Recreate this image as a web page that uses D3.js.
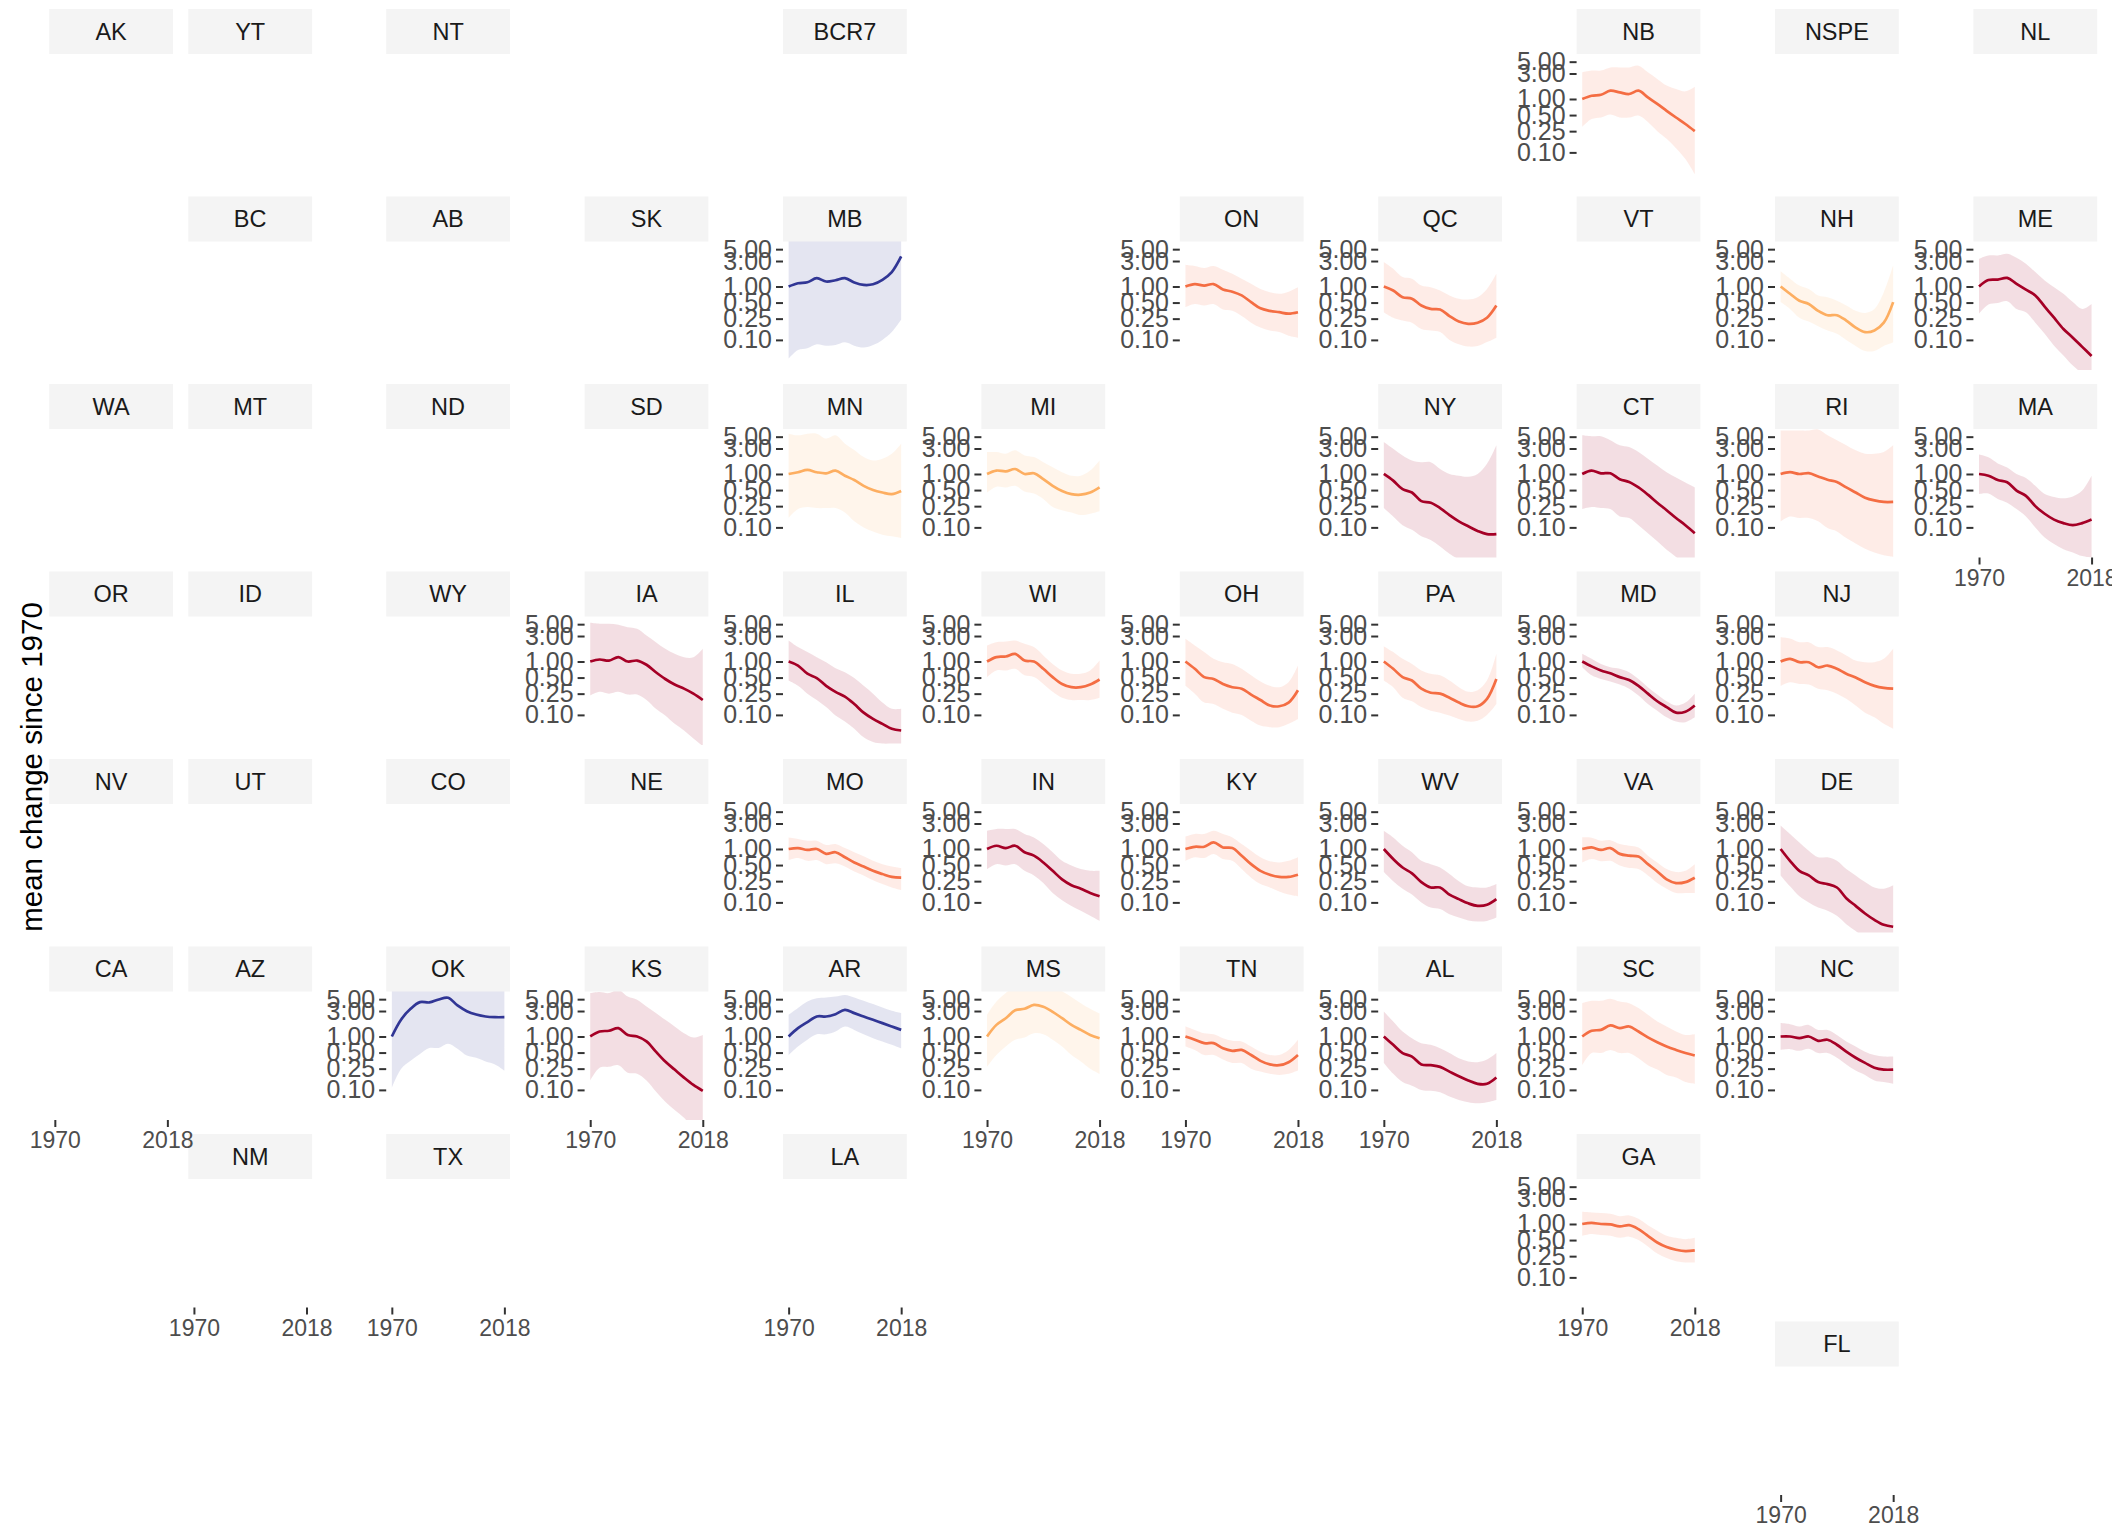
<!DOCTYPE html>
<html>
<head>
<meta charset="utf-8">
<script src="https://cdn.jsdelivr.net/npm/d3@7"></script>
<style>
body { margin: 0; background: #fff; }
svg text { font-family: "Liberation Sans", Arial, sans-serif; }
</style>
</head>
<body>
<div id="chart"></div>
<script>
// years sampled along every trend line
var years = [1970, 1974, 1978, 1982, 1986, 1990, 1994, 1998, 2002, 2006, 2010, 2014, 2018];

var yTicks = [0.10, 0.25, 0.50, 1.00, 3.00, 5.00];
var xTicks = [1970, 2018];

// geofacet grid: region code, row, column
var gridCodes = ["AK","YT","NT","BCR7","NB","NSPE","NL",
    "BC","AB","SK","MB","ON","QC","VT","NH","ME",
    "WA","MT","ND","SD","MN","MI","NY","CT","RI","MA",
    "OR","ID","WY","IA","IL","WI","OH","PA","MD","NJ",
    "NV","UT","CO","NE","MO","IN","KY","WV","VA","DE",
    "CA","AZ","OK","KS","AR","MS","TN","AL","SC","NC",
    "NM","TX","LA","GA",
    "FL"];
var gridRows = [1,1,1,1,1,1,1,
    2,2,2,2,2,2,2,2,2,
    3,3,3,3,3,3,3,3,3,3,
    4,4,4,4,4,4,4,4,4,4,
    5,5,5,5,5,5,5,5,5,5,
    6,6,6,6,6,6,6,6,6,6,
    7,7,7,7,
    8];
var gridCols = [1,2,3,5,9,10,11,
    2,3,4,5,7,8,9,10,11,
    1,2,3,4,5,6,8,9,10,11,
    1,2,3,4,5,6,7,8,9,10,
    1,2,3,4,5,6,7,8,9,10,
    1,2,3,4,5,6,7,8,9,10,
    2,3,5,9,
    10];

var trendStates = ["NB","MB","ON","QC","NH","ME","MN","MI","NY","CT","RI","MA",
    "IA","IL","WI","OH","PA","MD","NJ","MO","IN","KY","WV","VA","DE",
    "OK","KS","AR","MS","TN","AL","SC","NC","GA"];
var trendClass = ["decrease","increase","decrease","decrease","small decrease","large decrease",
    "small decrease","small decrease","large decrease","large decrease","decrease","large decrease",
    "large decrease","large decrease","decrease","decrease","decrease","large decrease","decrease",
    "decrease","large decrease","decrease","large decrease","decrease","large decrease",
    "increase","large decrease","increase","small decrease","decrease","large decrease","decrease",
    "large decrease","decrease"];
var classNames = ["large decrease", "decrease", "small decrease", "increase"];
var classColors = ["#a50026", "#f46d43", "#fdae61", "#313695"];

var meanChange = [
    [1.00, 1.15, 1.20, 1.43, 1.33, 1.24, 1.43, 1.07, 0.81, 0.60, 0.45, 0.34, 0.25],
    [1.00, 1.15, 1.20, 1.43, 1.24, 1.31, 1.43, 1.19, 1.07, 1.10, 1.33, 1.86, 3.65],
    [1.00, 1.11, 1.04, 1.11, 0.88, 0.80, 0.68, 0.51, 0.39, 0.35, 0.33, 0.31, 0.33],
    [1.00, 0.84, 0.63, 0.59, 0.44, 0.38, 0.37, 0.28, 0.22, 0.20, 0.21, 0.26, 0.44],
    [1.00, 0.73, 0.54, 0.47, 0.35, 0.29, 0.29, 0.23, 0.17, 0.14, 0.15, 0.21, 0.51],
    [1.00, 1.32, 1.35, 1.45, 1.12, 0.87, 0.68, 0.42, 0.26, 0.16, 0.11, 0.074, 0.050],
    [1.00, 1.08, 1.19, 1.08, 1.03, 1.16, 0.93, 0.77, 0.60, 0.50, 0.45, 0.42, 0.48],
    [1.00, 1.16, 1.12, 1.24, 1.00, 1.03, 0.80, 0.60, 0.48, 0.42, 0.41, 0.45, 0.56],
    [1.00, 0.75, 0.52, 0.45, 0.31, 0.29, 0.23, 0.17, 0.13, 0.105, 0.086, 0.075, 0.075],
    [1.00, 1.16, 1.03, 1.03, 0.80, 0.71, 0.56, 0.41, 0.29, 0.21, 0.15, 0.11, 0.078],
    [1.00, 1.08, 1.00, 1.04, 0.90, 0.78, 0.71, 0.56, 0.45, 0.36, 0.32, 0.30, 0.30],
    [1.00, 0.93, 0.77, 0.70, 0.49, 0.39, 0.25, 0.18, 0.14, 0.12, 0.11, 0.12, 0.14],
    [1.00, 1.09, 1.04, 1.21, 1.00, 1.04, 0.87, 0.63, 0.47, 0.37, 0.31, 0.25, 0.19],
    [1.00, 0.84, 0.59, 0.49, 0.35, 0.27, 0.22, 0.16, 0.11, 0.084, 0.068, 0.055, 0.051],
    [1.00, 1.21, 1.24, 1.39, 1.04, 1.00, 0.73, 0.51, 0.38, 0.33, 0.33, 0.37, 0.46],
    [1.00, 0.73, 0.51, 0.47, 0.38, 0.33, 0.31, 0.24, 0.19, 0.15, 0.145, 0.17, 0.29],
    [1.00, 0.73, 0.51, 0.44, 0.31, 0.26, 0.25, 0.21, 0.17, 0.145, 0.145, 0.20, 0.47],
    [1.00, 0.81, 0.68, 0.60, 0.51, 0.45, 0.35, 0.25, 0.18, 0.14, 0.11, 0.115, 0.15],
    [1.00, 1.12, 0.97, 0.97, 0.78, 0.84, 0.73, 0.59, 0.50, 0.41, 0.35, 0.32, 0.31],
    [1.00, 1.04, 0.96, 1.00, 0.81, 0.87, 0.70, 0.56, 0.47, 0.39, 0.34, 0.30, 0.29],
    [1.00, 1.15, 1.04, 1.15, 0.87, 0.75, 0.56, 0.39, 0.27, 0.21, 0.18, 0.15, 0.13],
    [1.00, 1.10, 1.10, 1.33, 1.07, 1.04, 0.75, 0.52, 0.39, 0.33, 0.30, 0.30, 0.33],
    [1.00, 0.65, 0.45, 0.35, 0.24, 0.19, 0.19, 0.14, 0.115, 0.096, 0.086, 0.09, 0.115],
    [1.00, 1.07, 0.96, 1.04, 0.81, 0.75, 0.72, 0.52, 0.38, 0.27, 0.23, 0.24, 0.29],
    [1.00, 0.60, 0.39, 0.32, 0.24, 0.22, 0.19, 0.12, 0.086, 0.062, 0.047, 0.038, 0.035],
    [1.00, 2.08, 3.30, 4.40, 4.34, 4.94, 5.30, 3.81, 2.98, 2.58, 2.37, 2.30, 2.30],
    [1.00, 1.24, 1.28, 1.43, 1.07, 1.00, 0.81, 0.52, 0.34, 0.24, 0.17, 0.124, 0.096],
    [1.00, 1.43, 1.86, 2.37, 2.37, 2.62, 3.16, 2.74, 2.37, 2.05, 1.78, 1.54, 1.33],
    [1.00, 1.65, 2.20, 3.10, 3.30, 3.90, 3.60, 2.90, 2.20, 1.65, 1.33, 1.07, 0.93],
    [1.00, 0.87, 0.75, 0.75, 0.60, 0.54, 0.56, 0.45, 0.35, 0.30, 0.29, 0.33, 0.45],
    [1.00, 0.70, 0.49, 0.42, 0.30, 0.29, 0.27, 0.22, 0.18, 0.15, 0.13, 0.13, 0.17],
    [1.00, 1.28, 1.33, 1.61, 1.43, 1.54, 1.24, 0.96, 0.78, 0.65, 0.56, 0.49, 0.44],
    [1.00, 1.00, 0.93, 1.00, 0.83, 0.87, 0.70, 0.52, 0.40, 0.32, 0.26, 0.24, 0.24],
    [1.00, 1.05, 1.00, 0.98, 0.90, 0.95, 0.80, 0.60, 0.45, 0.37, 0.33, 0.31, 0.32]
];

var lowerBound = [
    [0.30, 0.42, 0.45, 0.51, 0.45, 0.45, 0.49, 0.37, 0.25, 0.18, 0.12, 0.075, 0.039],
    [0.045, 0.065, 0.07, 0.083, 0.078, 0.08, 0.09, 0.078, 0.072, 0.08, 0.10, 0.14, 0.24],
    [0.41, 0.47, 0.44, 0.47, 0.37, 0.35, 0.28, 0.21, 0.17, 0.15, 0.14, 0.12, 0.11],
    [0.33, 0.26, 0.23, 0.21, 0.16, 0.15, 0.14, 0.10, 0.083, 0.075, 0.077, 0.091, 0.11],
    [0.51, 0.38, 0.26, 0.22, 0.18, 0.15, 0.13, 0.10, 0.077, 0.062, 0.062, 0.077, 0.089],
    [0.31, 0.46, 0.49, 0.53, 0.38, 0.33, 0.21, 0.13, 0.078, 0.051, 0.033, 0.024, 0.02],
    [0.15, 0.22, 0.24, 0.23, 0.23, 0.23, 0.19, 0.13, 0.10, 0.084, 0.073, 0.068, 0.063],
    [0.45, 0.58, 0.56, 0.60, 0.47, 0.43, 0.34, 0.24, 0.21, 0.19, 0.17, 0.18, 0.20],
    [0.23, 0.16, 0.11, 0.090, 0.068, 0.058, 0.044, 0.032, 0.025, 0.02, 0.02, 0.02, 0.02],
    [0.22, 0.24, 0.23, 0.22, 0.16, 0.15, 0.11, 0.078, 0.055, 0.038, 0.028, 0.02, 0.02],
    [0.13, 0.16, 0.15, 0.15, 0.13, 0.097, 0.084, 0.063, 0.05, 0.04, 0.034, 0.03, 0.028],
    [0.42, 0.43, 0.34, 0.29, 0.22, 0.16, 0.10, 0.065, 0.049, 0.039, 0.034, 0.029, 0.027],
    [0.23, 0.27, 0.25, 0.27, 0.24, 0.24, 0.19, 0.13, 0.097, 0.068, 0.051, 0.036, 0.026],
    [0.44, 0.35, 0.25, 0.19, 0.14, 0.097, 0.075, 0.055, 0.038, 0.031, 0.029, 0.029, 0.029],
    [0.51, 0.68, 0.68, 0.73, 0.55, 0.51, 0.38, 0.27, 0.21, 0.19, 0.19, 0.19, 0.21],
    [0.35, 0.25, 0.17, 0.16, 0.13, 0.11, 0.10, 0.078, 0.063, 0.059, 0.059, 0.068, 0.084],
    [0.44, 0.33, 0.21, 0.18, 0.14, 0.12, 0.11, 0.097, 0.084, 0.075, 0.078, 0.10, 0.16],
    [0.78, 0.55, 0.47, 0.42, 0.37, 0.31, 0.23, 0.16, 0.12, 0.09, 0.075, 0.073, 0.09],
    [0.35, 0.41, 0.38, 0.37, 0.31, 0.29, 0.25, 0.20, 0.15, 0.11, 0.09, 0.068, 0.055],
    [0.62, 0.68, 0.60, 0.62, 0.52, 0.54, 0.47, 0.38, 0.32, 0.26, 0.22, 0.19, 0.17],
    [0.42, 0.52, 0.49, 0.52, 0.39, 0.32, 0.23, 0.15, 0.11, 0.086, 0.07, 0.056, 0.045],
    [0.60, 0.70, 0.68, 0.81, 0.65, 0.60, 0.42, 0.29, 0.22, 0.19, 0.16, 0.14, 0.13],
    [0.37, 0.25, 0.18, 0.14, 0.10, 0.08, 0.075, 0.06, 0.052, 0.046, 0.044, 0.045, 0.052],
    [0.56, 0.65, 0.59, 0.60, 0.49, 0.44, 0.42, 0.32, 0.23, 0.18, 0.15, 0.15, 0.15],
    [0.32, 0.20, 0.13, 0.10, 0.08, 0.07, 0.056, 0.039, 0.029, 0.022, 0.02, 0.02, 0.02],
    [0.11, 0.25, 0.35, 0.47, 0.61, 0.61, 0.73, 0.59, 0.44, 0.40, 0.34, 0.30, 0.23],
    [0.15, 0.26, 0.27, 0.29, 0.21, 0.20, 0.15, 0.093, 0.06, 0.042, 0.03, 0.02, 0.02],
    [0.45, 0.65, 0.87, 1.10, 1.10, 1.24, 1.54, 1.33, 1.10, 0.93, 0.81, 0.70, 0.60],
    [0.27, 0.45, 0.65, 0.87, 0.96, 1.15, 1.10, 0.87, 0.65, 0.45, 0.34, 0.25, 0.20],
    [0.65, 0.56, 0.45, 0.45, 0.37, 0.32, 0.32, 0.25, 0.22, 0.20, 0.19, 0.20, 0.23],
    [0.32, 0.20, 0.14, 0.12, 0.10, 0.096, 0.09, 0.075, 0.065, 0.059, 0.056, 0.059, 0.065],
    [0.29, 0.49, 0.49, 0.56, 0.49, 0.49, 0.39, 0.29, 0.24, 0.19, 0.17, 0.14, 0.13],
    [0.56, 0.58, 0.54, 0.59, 0.49, 0.49, 0.40, 0.30, 0.23, 0.19, 0.15, 0.14, 0.13],
    [0.60, 0.65, 0.62, 0.60, 0.55, 0.58, 0.50, 0.38, 0.28, 0.23, 0.20, 0.19, 0.19]
];

var upperBound = [
    [3.16, 3.40, 3.40, 3.90, 3.90, 3.90, 4.20, 3.16, 2.37, 1.78, 1.54, 1.39, 1.70],
    [9, 9, 9, 9, 9, 9, 9, 9, 9, 9, 9, 9, 9],
    [2.56, 2.42, 2.22, 2.42, 2.06, 1.73, 1.40, 1.12, 0.90, 0.78, 0.73, 0.80, 0.97],
    [2.88, 2.15, 1.50, 1.40, 1.04, 0.97, 0.84, 0.68, 0.59, 0.57, 0.63, 0.90, 1.73],
    [1.92, 1.40, 1.04, 0.90, 0.68, 0.63, 0.54, 0.44, 0.35, 0.32, 0.38, 0.78, 2.49],
    [3.30, 3.81, 3.81, 4.11, 3.45, 2.66, 1.86, 1.30, 0.97, 0.73, 0.51, 0.38, 0.47],
    [5.7, 5.3, 5.7, 5.7, 4.6, 5.3, 3.7, 2.8, 2.07, 1.79, 1.93, 2.4, 3.7],
    [2.58, 2.58, 2.40, 2.77, 2.23, 2.07, 1.66, 1.34, 1.08, 0.93, 0.93, 1.16, 1.79],
    [3.99, 2.98, 2.23, 1.79, 1.66, 1.66, 1.24, 1.00, 0.93, 0.89, 1.00, 1.55, 3.45],
    [5.3, 5.1, 5.1, 4.3, 3.45, 3.2, 2.58, 1.93, 1.44, 1.08, 0.86, 0.69, 0.56],
    [6.5, 6.5, 6.5, 6.5, 6.8, 5.3, 4.3, 3.45, 2.77, 2.4, 2.4, 2.58, 3.45],
    [2.31, 2.05, 1.58, 1.33, 1.00, 0.84, 0.60, 0.42, 0.37, 0.35, 0.38, 0.49, 0.93],
    [5.3, 5.1, 5.1, 4.9, 4.4, 4.1, 3.07, 2.3, 1.73, 1.39, 1.2, 1.2, 1.73],
    [2.47, 1.86, 1.50, 1.20, 0.97, 0.75, 0.63, 0.49, 0.35, 0.25, 0.17, 0.13, 0.13],
    [2.00, 2.30, 2.37, 2.47, 2.15, 1.86, 1.30, 0.90, 0.68, 0.59, 0.59, 0.68, 1.04],
    [2.66, 2.00, 1.50, 1.12, 0.97, 0.90, 0.73, 0.55, 0.42, 0.35, 0.33, 0.41, 0.84],
    [1.94, 1.50, 1.12, 0.90, 0.68, 0.59, 0.55, 0.44, 0.33, 0.27, 0.29, 0.44, 1.39],
    [1.39, 1.12, 0.90, 0.78, 0.73, 0.63, 0.47, 0.33, 0.24, 0.18, 0.15, 0.17, 0.25],
    [2.86, 2.70, 2.30, 2.30, 1.86, 1.86, 1.61, 1.30, 1.04, 0.97, 0.97, 1.12, 1.73],
    [1.65, 1.54, 1.43, 1.43, 1.19, 1.24, 1.04, 0.87, 0.73, 0.60, 0.52, 0.47, 0.44],
    [2.20, 2.37, 2.37, 2.37, 1.91, 1.65, 1.24, 0.87, 0.60, 0.49, 0.42, 0.39, 0.39],
    [1.70, 1.91, 1.91, 2.20, 1.91, 1.65, 1.24, 0.93, 0.70, 0.59, 0.56, 0.60, 0.70],
    [2.20, 1.65, 1.15, 0.87, 0.60, 0.52, 0.45, 0.34, 0.25, 0.20, 0.19, 0.19, 0.22],
    [1.65, 1.63, 1.43, 1.46, 1.24, 1.15, 1.07, 0.75, 0.56, 0.42, 0.37, 0.39, 0.52],
    [2.74, 1.91, 1.33, 0.93, 0.70, 0.70, 0.60, 0.42, 0.32, 0.24, 0.19, 0.18, 0.21],
    [9, 9, 9, 9, 9, 9, 9, 9, 9, 9, 9, 9, 9],
    [6.5, 6.8, 6.5, 7.5, 5.6, 4.9, 3.65, 2.74, 2.05, 1.54, 1.15, 0.96, 1.07],
    [2.55, 3.40, 4.50, 5.20, 5.40, 5.60, 6.00, 5.40, 4.66, 4.04, 3.50, 3.03, 2.74],
    [2.55, 4.5, 6.5, 9, 9, 9, 9, 9, 7, 5.5, 4.2, 3.3, 2.7],
    [1.54, 1.33, 1.15, 1.10, 0.93, 0.83, 0.81, 0.65, 0.52, 0.45, 0.45, 0.56, 0.87],
    [2.94, 1.91, 1.24, 0.93, 0.75, 0.70, 0.60, 0.49, 0.39, 0.34, 0.33, 0.37, 0.49],
    [4.2, 4.66, 4.66, 5.1, 4.5, 4.2, 3.4, 2.55, 1.91, 1.54, 1.24, 1.07, 1.10],
    [1.78, 1.70, 1.54, 1.65, 1.33, 1.33, 1.07, 0.81, 0.65, 0.52, 0.45, 0.42, 0.42],
    [1.70, 1.65, 1.60, 1.55, 1.40, 1.45, 1.25, 0.95, 0.75, 0.60, 0.55, 0.52, 0.55]
];

var w = 2112;
var h = 1530;
var panelW = 123.8;
var stripH = 45;
var panelH = 128.5;
var rowStep = 187.5;

function colX(c) {
    if (c == 1) return 49.2;
    if (c == 2) return 188.3;
    return 386.2 + (c - 3) * 198.4;
}
function rowY(r) {
    return 9 + (r - 1) * rowStep;
}

var svg = d3.select("#chart")
    .append("svg")
    .attr("width", w)
    .attr("height", h);

// panels first, axes on top so labels are never hidden under strips
var panelLayer = svg.append("g");
var axisLayer = svg.append("g");

var xScale = d3.scaleLinear()
    .domain([1967.6, 2020.4])
    .range([0, panelW]);

var yScale = d3.scaleLog()
    .domain([0.0273, 6.96])
    .range([panelH, 0]);

var color = d3.scaleOrdinal().domain(classNames).range(classColors);

var area = d3.area()
    .x((d, j) => xScale(years[j]))
    .y0(d => yScale(d[0]))
    .y1(d => yScale(d[1]))
    .curve(d3.curveCatmullRom);

var line = d3.line()
    .x((d, j) => xScale(years[j]))
    .y(d => yScale(d))
    .curve(d3.curveCatmullRom);

// lowest panel of each column carries the x axis
var bottomRow = {};
gridCodes.forEach(function (code, i) {
    var c = gridCols[i];
    bottomRow[c] = Math.max(bottomRow[c] || 0, gridRows[i]);
});

function styleAxis(size) {
    return function (g) {
        g.select(".domain").remove();
        g.selectAll(".tick line").attr("stroke", "#333333").attr("stroke-width", 2);
        g.selectAll(".tick text")
            .attr("fill", "#4d4d4d")
            .style("font-size", size);
    };
}

gridCodes.forEach(function (code, i) {
    var px = colX(gridCols[i]);
    var py = rowY(gridRows[i]) + stripH;

    var g = panelLayer.append("g")
        .attr("transform", "translate(" + px + "," + rowY(gridRows[i]) + ")");

    g.append("rect")
        .attr("width", panelW)
        .attr("height", stripH)
        .attr("fill", "#f4f4f4");

    g.append("text")
        .attr("x", panelW / 2)
        .attr("y", stripH / 2)
        .attr("dy", "0.36em")
        .attr("text-anchor", "middle")
        .attr("fill", "#1a1a1a")
        .style("font-size", "23.5px")
        .text(code);

    var p = g.append("g").attr("transform", "translate(0," + stripH + ")");

    var k = trendStates.indexOf(code);
    if (k >= 0) {
        var col = color(trendClass[k]);
        p.append("clipPath")
            .attr("id", "clip-" + code)
            .append("rect")
            .attr("width", panelW)
            .attr("height", panelH);

        var band = lowerBound[k].map((v, j) => [v, upperBound[k][j]]);
        var inner = p.append("g").attr("clip-path", "url(#clip-" + code + ")");
        inner.append("path")
            .attr("d", area(band))
            .attr("fill", col)
            .attr("fill-opacity", 0.13);
        inner.append("path")
            .attr("d", line(meanChange[k]))
            .attr("fill", "none")
            .attr("stroke", col)
            .attr("stroke-width", 2.7);

        axisLayer.append("g")
            .attr("transform", "translate(" + px + "," + py + ")")
            .call(d3.axisLeft(yScale)
                .tickValues(yTicks)
                .tickFormat(d3.format(".2f"))
                .tickSize(7)
                .tickPadding(4))
            .call(styleAxis("25px"));
    }

    if (gridRows[i] == bottomRow[gridCols[i]]) {
        axisLayer.append("g")
            .attr("transform", "translate(" + px + "," + (py + panelH) + ")")
            .call(d3.axisBottom(xScale)
                .tickValues(xTicks)
                .tickFormat(d3.format("d"))
                .tickSize(7)
                .tickPadding(5))
            .call(styleAxis("23px"));
    }
});

svg.append("text")
    .attr("transform", "translate(41.5,767) rotate(-90)")
    .attr("text-anchor", "middle")
    .attr("fill", "#000")
    .style("font-size", "29.5px")
    .text("mean change since 1970");
</script>
</body>
</html>
